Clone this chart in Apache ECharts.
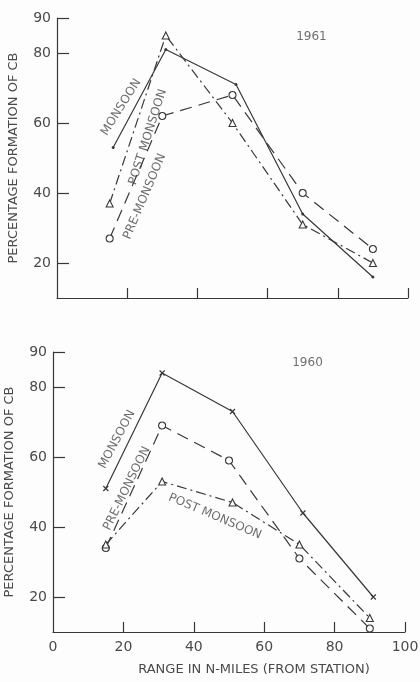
<!DOCTYPE html>
<html>
<head>
<meta charset="utf-8">
<script src="https://cdn.jsdelivr.net/npm/echarts@6/dist/echarts.min.js"></script>
<style>
  html, body { margin: 0; padding: 0; background: #fdfdfd; }
  #chart { width: 420px; height: 682px; }
</style>
</head>
<body>
<div id="chart"></div>
<script>
/* ── Data ───────────────────────────────────────────────── */
// [range in n-miles, % formation of Cb]
const monsoon1961     = [[16, 53], [31, 81], [51, 71], [70, 34], [90, 16]];
const postMonsoon1961 = [[15, 37], [31, 85], [50, 60], [70, 31], [90, 20]];
const preMonsoon1961  = [[15, 27], [30, 62], [50, 68], [70, 40], [90, 24]];

const monsoon1960     = [[15, 51], [31, 84], [51, 73], [71, 44], [91, 20]];
const preMonsoon1960  = [[15, 34], [31, 69], [50, 59], [70, 31], [90, 11]];
const postMonsoon1960 = [[15, 35], [31, 53], [51, 47], [70, 35], [90, 14]];

const yTicks = [20, 40, 60, 80, 90];
const xTicks = [0, 20, 40, 60, 80, 100];

/* ── Styling helpers ────────────────────────────────────── */
const INK = '#383838';
const TXT = '#4a4a4a';
const FONT = 'DejaVu Sans, sans-serif';

const chart = echarts.init(document.getElementById('chart'), null, { renderer: 'canvas' });

function xAxisFor(gridIndex, showLabels) {
  return {
    type: 'value', gridIndex, min: 0, max: 100, interval: 20,
    axisLine: { show: true, lineStyle: { color: INK, width: 1.2 } },
    axisTick: { show: true, inside: true, length: 10, customValues: [20, 40, 60, 80, 100],
      lineStyle: { color: INK, width: 1.2 } },
    splitLine: { show: false },
    axisLabel: showLabels
      ? { show: true, customValues: xTicks, color: TXT, fontFamily: FONT, fontSize: 14, margin: 8 }
      : { show: false },
    name: showLabels ? 'RANGE IN N-MILES (FROM STATION)' : '',
    nameLocation: 'middle',
    nameGap: 31,
    nameTextStyle: { color: TXT, fontFamily: FONT, fontSize: 13, padding: [0, 0, 0, 50] }
  };
}

function yAxisFor(gridIndex) {
  return {
    type: 'value', gridIndex, min: 10, max: 90, interval: 10,
    axisLine: { show: true, lineStyle: { color: INK, width: 1.2 } },
    axisTick: { show: true, inside: true, length: 12, customValues: yTicks,
      lineStyle: { color: INK, width: 1.2 } },
    splitLine: { show: false },
    axisLabel: { customValues: yTicks, color: TXT, fontFamily: FONT, fontSize: 14, margin: 6 },
    name: 'PERCENTAGE FORMATION OF CB',
    nameLocation: 'middle',
    nameRotate: 90,
    nameGap: 37,
    nameTextStyle: { color: TXT, fontFamily: FONT, fontSize: 13 }
  };
}

const crossSym = 'path://M0,0L10,10M10,0L0,10';

function line(name, data, idx, kind) {
  const s = {
    name, type: 'line', data, xAxisIndex: idx, yAxisIndex: idx,
    lineStyle: { color: INK, width: 1.2 },
    itemStyle: { color: '#fdfdfd', borderColor: INK, borderWidth: 1.1 },
    symbolKeepAspect: true,
    animation: false,
    z: 3
  };
  if (kind === 'monsoon') {
    s.lineStyle.type = 'solid';
    if (idx === 0) {
      s.symbol = 'circle'; s.symbolSize = 3;
      s.itemStyle = { color: INK };
    } else {
      s.symbol = crossSym; s.symbolSize = 5;
      s.itemStyle = { color: 'none', borderColor: INK, borderWidth: 1.2 };
    }
  } else if (kind === 'pre') {
    s.lineStyle.type = [12, 7];
    s.symbol = 'circle'; s.symbolSize = 7;
  } else {
    s.lineStyle.type = [10, 4, 2, 4];
    s.symbol = 'triangle'; s.symbolSize = 7;
  }
  return s;
}

// rotated captions placed in data coordinates
function notes(idx, items) {
  return {
    type: 'scatter', xAxisIndex: idx, yAxisIndex: idx, silent: true, animation: false,
    symbolSize: 1, itemStyle: { color: 'rgba(0,0,0,0)' }, z: 5,
    data: items.map(n => ({
      value: [n.x, n.y],
      label: {
        show: true, position: 'inside', formatter: n.text, rotate: n.rot,
        color: TXT, fontFamily: FONT, fontSize: n.size || 12
      }
    }))
  };
}

const option = {
  backgroundColor: '#fdfdfd',
  grid: [
    { left: 57, top: 18, width: 351, height: 280, outerBoundsMode: 'none', containLabel: false },
    { left: 53, top: 352, width: 352, height: 280, outerBoundsMode: 'none', containLabel: false }
  ],
  xAxis: [xAxisFor(0, false), xAxisFor(1, true)],
  yAxis: [yAxisFor(0), yAxisFor(1)],
  series: [
    line('Monsoon 1961', monsoon1961, 0, 'monsoon'),
    line('Post monsoon 1961', postMonsoon1961, 0, 'post'),
    line('Pre-monsoon 1961', preMonsoon1961, 0, 'pre'),
    line('Monsoon 1960', monsoon1960, 1, 'monsoon'),
    line('Pre-monsoon 1960', preMonsoon1960, 1, 'pre'),
    line('Post monsoon 1960', postMonsoon1960, 1, 'post'),
    notes(0, [
      { x: 18.3, y: 64.5, text: 'MONSOON', rot: 58 },
      { x: 25.9, y: 56, text: 'POST MONSOON', rot: 72 },
      { x: 25, y: 39, text: 'PRE-MONSOON', rot: 67 },
      { x: 72.5, y: 84.6, text: '1961', size: 12, rot: 0 }
    ]),
    notes(1, [
      { x: 18.2, y: 65, text: 'MONSOON', rot: 62 },
      { x: 21, y: 51, text: 'PRE-MONSOON', rot: 64 },
      { x: 46, y: 43, text: 'POST MONSOON', rot: -23 },
      { x: 72.3, y: 86.9, text: '1960', size: 12, rot: 0 }
    ])
  ]
};

chart.setOption(option);
window.addEventListener('resize', () => chart.resize());
</script>
</body>
</html>
